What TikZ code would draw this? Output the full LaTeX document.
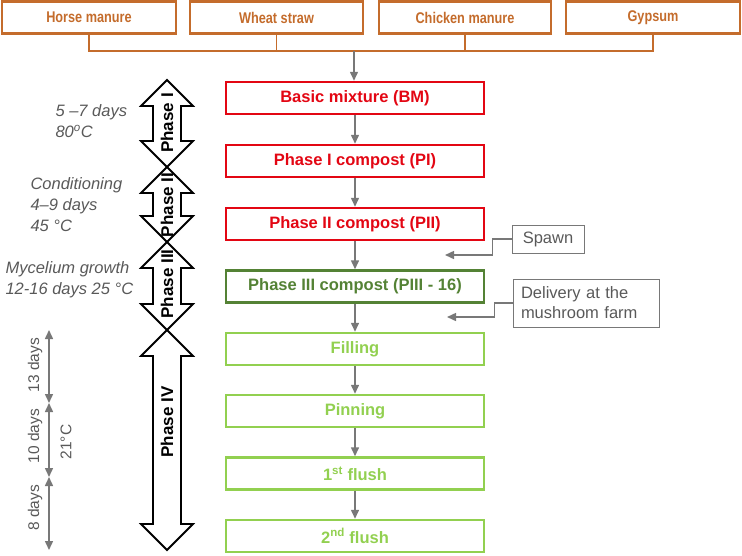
\documentclass[tikz,border=0pt]{standalone}
\usepackage{fontspec}
\setmainfont{Liberation Sans}
\newfontfamily\narrowfont[FakeStretch=0.82]{Liberation Sans}
\usepackage{tikz}
\usetikzlibrary{arrows.meta}
\usepackage{xcolor}
\definecolor{compostbrown}{RGB}{196, 108, 44}
\definecolor{compostred}{RGB}{227, 6, 19}
\definecolor{compostdark}{RGB}{84, 130, 53}
\definecolor{compostlight}{RGB}{146, 208, 80}
\definecolor{compostgray}{RGB}{120, 120, 120}
\definecolor{compostnote}{RGB}{89, 89, 89}

\tikzset{
  ingredient/.style={rectangle, draw=compostbrown, line width=2.2pt, minimum width=173pt, minimum height=32pt, text=compostbrown, font=\narrowfont\fontsize{15.5}{18}\selectfont\bfseries},
  stage/.style={rectangle, draw=#1, line width=2.5pt, minimum width=258pt, minimum height=32pt, text=#1, font=\fontsize{16.5}{18}\selectfont\bfseries},
  remark/.style={rectangle, draw=compostgray, line width=1pt, align=left, font=\fontsize{16.5}{20}\selectfont, text=compostnote},
  feed/.style={draw=compostbrown, line width=1.3pt},
  flow/.style={draw=compostgray, line width=1.5pt, -{Triangle[width=8pt,length=9pt]}},
  span/.style={draw=compostgray, line width=1.5pt, {Triangle[width=8pt,length=9pt]}-{Triangle[width=8pt,length=9pt]}},
  duration/.style={align=left, anchor=west, text=compostnote, font=\fontsize{16.5}{21}\selectfont\itshape},
  daytag/.style={rotate=90, text=compostnote, font=\fontsize{15.5}{17}\selectfont},
  phaseshape/.style={draw=black, line width=1.8pt, fill=white, line join=miter},
  phaselabel/.style={rotate=90, font=\fontsize{17}{18}\selectfont\bfseries}
}

% block double arrow from #1 (top) to #2 (bottom)
\newcommand{\phasearrow}[2]{%
  \draw[phaseshape] (167,#1) -- (193,#1+26) -- (181,#1+26) -- (181,#2-26) -- (193,#2-26)
    -- (167,#2) -- (141,#2-26) -- (153,#2-26) -- (153,#1+26) -- (141,#1+26) -- cycle;}

\begin{document}
\begin{tikzpicture}[x=1pt, y=-1pt]
  \useasboundingbox (0,0) rectangle (742,555);

  % Ingredients
  \node[ingredient, minimum width=174pt] (horse) at (89,17.5) {Horse manure};
  \node[ingredient] (wheat) at (276.5,17.5) {Wheat straw};
  \node[ingredient, minimum width=172pt] (chicken) at (465,17.5) {Chicken manure};
  \node[ingredient, minimum width=174pt] (gypsum) at (653,17.5) {Gypsum};
  \coordinate (bus) at (354,51);
  \draw[feed] (horse.south) -- (horse.south |- bus) -| (gypsum.south);
  \draw[feed] (wheat.south) -- (wheat.south |- bus);
  \draw[feed] (chicken.south) -- (chicken.south |- bus);

  % Process stages
  \node[stage=compostred] (bm) at (355,98) {Basic mixture (BM)};
  \node[stage=compostred] (pi) at (355,161) {Phase I compost (PI)};
  \node[stage=compostred] (pii) at (355,224) {Phase II compost (PII)};
  \node[stage=compostdark] (piii) at (355,286.5) {Phase III compost (PIII - 16)};
  \node[stage=compostlight] (filling) at (355,349) {Filling};
  \node[stage=compostlight] (pinning) at (355,411) {Pinning};
  \node[stage=compostlight] (flusha) at (355,473.5) {1\textsuperscript{st} flush};
  \node[stage=compostlight] (flushb) at (355,536) {2\textsuperscript{nd} flush};

  \draw[flow] (bus) -- (bm.north -| bus);
  \foreach \a/\b in {bm/pi, pi/pii, pii/piii, piii/filling, filling/pinning, pinning/flusha, flusha/flushb}
    \draw[flow] (\a) -- (\b);

  % Inputs from the side
  \node[remark, minimum width=72pt, minimum height=28pt] (spawn) at (548,239) {Spawn};
  \node[remark, text width=130pt, inner xsep=8pt, minimum height=48pt] (delivery) at (586,303) {Delivery at the\\mushroom farm};
  \coordinate (spawnin) at (445,255);
  \coordinate (deliveryin) at (447,317);
  \draw[flow] (spawn.west) -- ++(-19,0) |- (spawnin);
  \draw[flow] (delivery.west) -- ++(-18,0) |- (deliveryin);

  % Phases
  \phasearrow{80}{167}
  \phasearrow{167}{242}
  \phasearrow{242}{330}
  \phasearrow{330}{550}
  \node[phaselabel] (phi) at (167,123) {Phase I};
  \node[phaselabel] (phii) at (167,205) {Phase II};
  \node[phaselabel] (phiii) at (167,284) {Phase III};
  \node[phaselabel] (phiv) at (167,422) {Phase IV};

  % Conditions
  \node[duration] (t1) at (52,121) {5 –7 days\\80\textsuperscript{o}C};
  \node[duration] (t2) at (27,205) {Conditioning\\4–9 days\\45 °C};
  \node[duration, text depth=0pt] (t3) at (2,278) {Mycelium growth\\12-16 days 25 °C};

  % Cropping durations
  \coordinate (d0) at (49,330);
  \coordinate (d1) at (49,403);
  \coordinate (d2) at (49,477);
  \coordinate (d3) at (49,550);
  \draw[span] (d0) -- (d1);
  \draw[span] (d1) -- (d2);
  \draw[span] (d2) -- (d3);
  \node[daytag] (w1) at (35,365) {13 days};
  \node[daytag] (w2) at (35,436) {10 days};
  \node[daytag] (w3) at (35,508) {8 days};
  \node[daytag] (temp) at (66,442) {21°C};
\end{tikzpicture}
\end{document}
